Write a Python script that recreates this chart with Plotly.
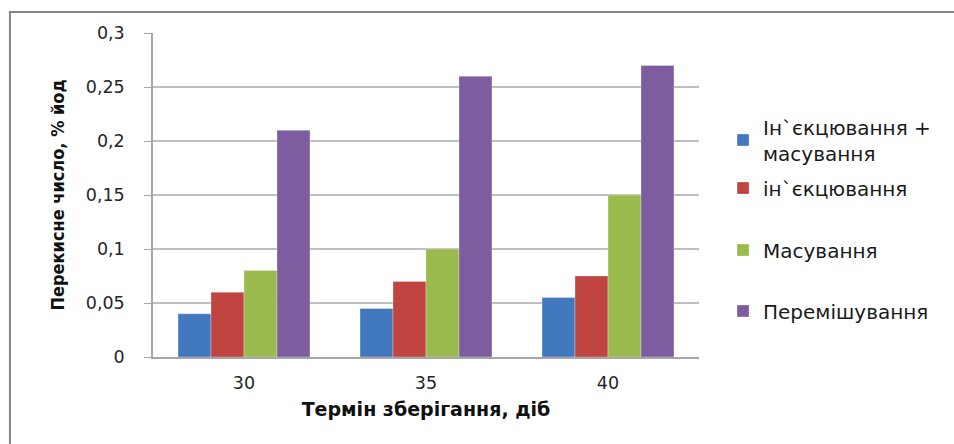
import plotly.graph_objects as go

# Storage time, days
categories = ["30", "35", "40"]

# Peroxide value, % iodine, for each processing method
series_names = [
    "Ін`єкцювання +<br>масування",
    "ін`єкцювання",
    "Масування",
    "Перемішування",
]
injection_massage = [0.04, 0.045, 0.055]
injection = [0.06, 0.07, 0.075]
massage = [0.08, 0.10, 0.15]
mixing = [0.21, 0.26, 0.27]

y_tickvals = [0, 0.05, 0.1, 0.15, 0.2, 0.25, 0.3]
y_ticktext = ["0", "0,05", "0,1", "0,15", "0,2", "0,25", "0,3"]

colors = ["#4279BE", "#C0443F", "#9ABA4E", "#7D5CA0"]
values = [injection_massage, injection, massage, mixing]

# one legend box per series so each entry can sit at its own height
legend_ids = ["legend", "legend2", "legend3", "legend4"]
legend_y = [1.0 - (140 - 33) / 324, 1.0 - (188 - 33) / 324,
            1.0 - (250 - 33) / 324, 1.0 - (311 - 33) / 324]

BASE_FONT = "DejaVu Sans, Verdana, sans-serif"

fig = go.Figure()
for name, vals, col, lid in zip(series_names, values, colors, legend_ids):
    fig.add_trace(go.Bar(
        x=categories,
        y=vals,
        name=name,
        marker=dict(color=col, line=dict(color="rgba(255,255,255,0.5)", width=0.6)),
        legend=lid,
        showlegend=True,
    ))

legend_common = dict(
    x=1.044, xanchor="left", yanchor="middle",
    font=dict(family=BASE_FONT, size=20, color="#1a1a1a"),
    itemwidth=30,
    bgcolor="rgba(0,0,0,0)",
)

layout_legends = {}
for lid, ly in zip(legend_ids, legend_y):
    layout_legends[lid] = dict(legend_common, y=ly)

fig.update_layout(
    width=954,
    height=444,
    margin=dict(l=153, r=255, t=33, b=87),
    paper_bgcolor="white",
    plot_bgcolor="white",
    barmode="group",
    bargap=0.275,
    bargroupgap=0,
    showlegend=True,
    font=dict(family=BASE_FONT, size=17, color="#262626"),
    xaxis=dict(
        showline=True, linecolor="#A6A6A6", linewidth=1.5,
        ticks="", tickfont=dict(size=17.5, color="#262626"),
        ticklabelstandoff=9,
        title=dict(text="<b>Термін зберігання, діб</b>",
                   font=dict(family=BASE_FONT, size=19, color="#111111"), standoff=11),
    ),
    yaxis=dict(
        range=[0, 0.3],
        tickvals=y_tickvals, ticktext=y_ticktext,
        showgrid=True, gridcolor="#BFBFBF", gridwidth=1.5,
        showline=True, linecolor="#A6A6A6", linewidth=1.5,
        ticks="outside", ticklen=7, tickcolor="#A6A6A6",
        tickfont=dict(size=17.5, color="#262626"),
        ticklabelstandoff=16,
        title=dict(text="<b>Перекисне число, % йод</b>",
                   font=dict(family="DejaVu Sans Condensed, Liberation Sans Narrow, sans-serif",
                             size=18, color="#111111"),
                   standoff=16),
        zeroline=False,
    ),
    shapes=[
        # chart frame: top and left edges
        dict(type="line", xref="paper", yref="paper", x0=-0.264, x1=1.47, y0=1.065, y1=1.065,
             line=dict(color="#878787", width=2)),
        dict(type="line", xref="paper", yref="paper", x0=-0.262, x1=-0.262, y0=1.066, y1=-0.3,
             line=dict(color="#878787", width=2)),
    ],
    **layout_legends,
)

fig.write_html("out.html")
